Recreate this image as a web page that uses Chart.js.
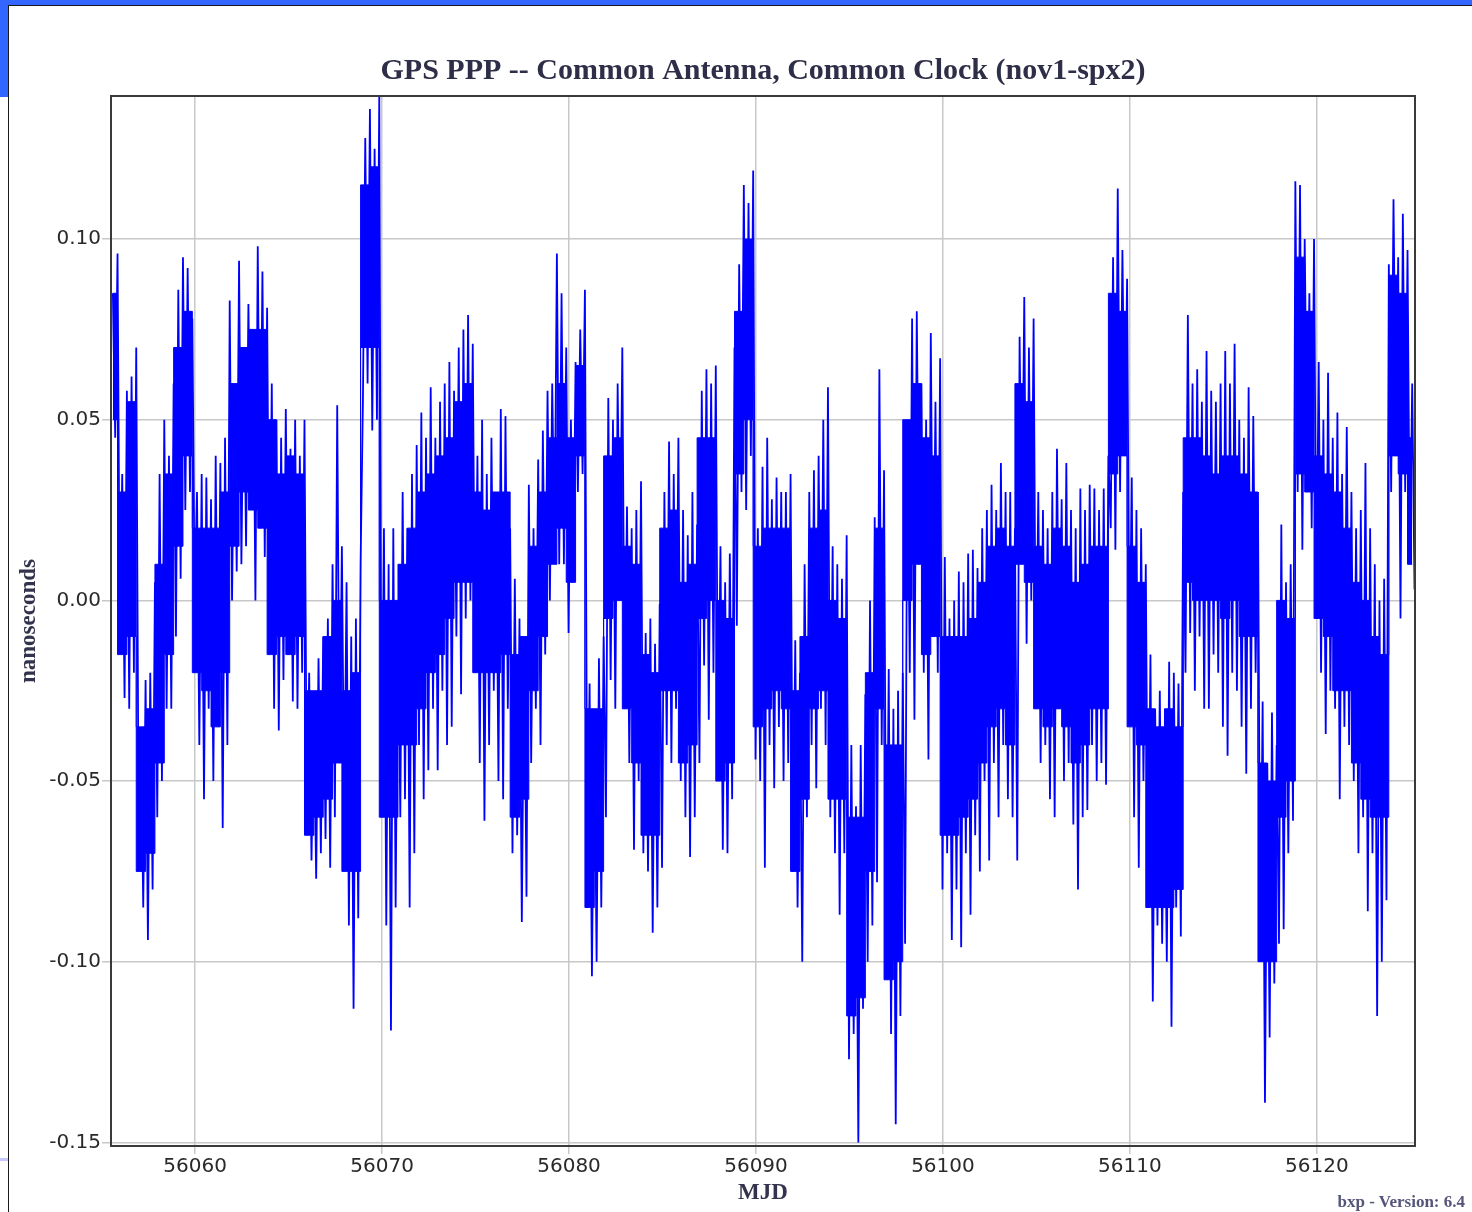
<!DOCTYPE html>
<html lang="en">
<head>
  <meta charset="UTF-8">
  <title>GPS PPP -- Common Antenna, Common Clock (nov1-spx2)</title>
  <style>
    html, body {
      margin: 0;
      padding: 0;
      background: #ffffff;
    }
    body {
      width: 1472px;
      height: 1212px;
      position: relative;
      overflow: hidden;
    }
    .bar-top { position: absolute; left: 0; top: 0; width: 1472px; height: 5px; background: #3366ff; }
    .bar-left { position: absolute; left: 0; top: 0; width: 8px; height: 97px; background: #3366ff; }
    .rule-top { position: absolute; left: 8px; top: 5px; width: 1464px; height: 1px; background: #1a1a1a; }
    .rule-left { position: absolute; left: 8px; top: 5px; width: 1px; height: 1207px; background: #1a1a1a; }
    .mark { position: absolute; left: 0; top: 1158px; width: 8px; height: 3px; background: #c8c8ff; }
    canvas { position: absolute; left: 0; top: 0; }
    .version {
      position: absolute;
      right: 7px;
      top: 1193px;
      font: bold 17px "Liberation Serif", serif;
      line-height: 17px;
      color: #55557a;
    }
  </style>
</head>
<body>
  <div class="bar-top"></div>
  <div class="bar-left"></div>
  <div class="rule-top"></div>
  <div class="rule-left"></div>
  <div class="mark"></div>
  <canvas id="pppChart" width="1472" height="1212"></canvas>
  <div class="version">bxp - Version: 6.4</div>

  <script src="https://cdn.jsdelivr.net/npm/chart.js"></script>
  <script>
    // samples every 0.125 day starting at MJD 56055.6, values in ns
    const mjdStart = 56055.6;
    const mjdStep = 0.125;
    const offsetNs = [
      0.085, 0.045, 0.096, -0.010, 0.035, -0.027, 0.058, -0.030,   // 56055.6
      0.062, -0.020, 0.070, -0.060, -0.036, -0.085, -0.022, -0.094,
      -0.020, -0.080, 0.005, -0.060, 0.035, -0.050, 0.050, -0.030,
      0.040, -0.030, 0.060, -0.010, 0.086, 0.006, 0.095, 0.025,
      0.092, 0.030, 0.078, 0.000, 0.030, -0.040, 0.035, -0.055,    // 56059.6
      0.034, -0.030, 0.028, -0.050, 0.040, -0.035, 0.038, -0.063,
      0.045, -0.040, 0.083, 0.000, 0.060, 0.008, 0.094, 0.010,
      0.070, 0.015, 0.082, 0.030, 0.075, 0.000, 0.098, 0.020,
      0.091, 0.012, 0.081, -0.010, 0.060, -0.030, 0.050, -0.036,
      0.045, -0.022, 0.053, -0.015, 0.042, -0.028, 0.050, -0.030,
      0.040, -0.020, 0.050, -0.060, -0.020, -0.072, -0.030, -0.077, // 56065.6
      -0.016, -0.070, -0.010, -0.066, -0.005, -0.074, 0.010, -0.060,
      0.054, -0.045, 0.015, -0.060, 0.005, -0.090, -0.010, -0.113,
      -0.005, -0.088, 0.010, 0.055, 0.128, 0.060, 0.136, 0.047,
      0.125, 0.050, 0.140, -0.060, 0.020, -0.090, 0.010, -0.119,
      0.020, -0.085, 0.000, -0.060, 0.030, -0.055, 0.020, -0.085,
      0.035, -0.070, 0.043, -0.040, 0.052, -0.055, 0.045, -0.047,
      0.059, -0.030, 0.045, -0.047, 0.055, -0.025, 0.060, -0.040,
      0.066, -0.035, 0.058, -0.010, 0.070, -0.026, 0.075, -0.005,
      0.079, 0.000, 0.071, -0.020, 0.040, -0.045, 0.050, -0.061,
      0.035, -0.040, 0.045, -0.025, 0.030, -0.050, 0.053, -0.055,   // 56075.6
      0.051, -0.030, 0.020, -0.070, 0.006, -0.065, -0.005, -0.089,
      -0.010, -0.082, 0.032, -0.045, 0.020, -0.030, 0.039, -0.040,
      0.047, -0.015, 0.058, 0.000, 0.060, 0.013, 0.096, 0.010,
      0.085, 0.010, 0.070, -0.009, 0.050, 0.005, 0.066, 0.030,
      0.075, 0.035, 0.086, -0.070, -0.023, -0.104, -0.030, -0.100,
      -0.016, -0.085, -0.010, -0.060, 0.056, -0.022, 0.050, -0.030,
      0.060, 0.005, 0.070, -0.030, 0.026, -0.045, 0.020, -0.069,
      0.025, -0.050, 0.033, -0.070, -0.009, -0.075, -0.005, -0.092,
      -0.012, -0.085, -0.001, -0.074, 0.030, -0.040, 0.044, -0.045,
      0.035, -0.030, 0.045, -0.050, 0.025, -0.060, 0.018, -0.071,   // 56085.6
      0.030, -0.060, 0.021, -0.045, 0.058, -0.018, 0.064, -0.033,
      0.060, -0.020, 0.065, -0.046, 0.015, -0.069, 0.005, -0.070,
      0.013, -0.055, 0.070, -0.007, 0.093, 0.030, 0.115, 0.025,
      0.110, 0.040, 0.119, -0.044, 0.020, -0.050, 0.037, -0.074,
      0.045, -0.040, 0.028, -0.052, 0.034, -0.035, 0.030, -0.050,
      0.030, -0.045, 0.035, -0.075, -0.011, -0.085, -0.020, -0.100,
      0.010, -0.060, 0.030, -0.040, 0.036, -0.052, 0.040, -0.030,
      0.050, -0.040, 0.059, -0.060, 0.015, -0.070, 0.010, -0.087,
      0.006, -0.070, 0.018, -0.127, -0.040, -0.120, -0.057, -0.150,
      -0.040, -0.113, -0.026, -0.100, 0.000, -0.090, 0.023, -0.078, // 56095.6
      0.064, -0.040, 0.036, -0.100, -0.019, -0.120, -0.030, -0.145,
      -0.025, -0.115, -0.020, -0.095, 0.050, -0.020, 0.078, -0.033,
      0.080, 0.010, 0.060, -0.020, 0.050, -0.044, 0.074, -0.010,
      0.055, -0.020, 0.067, -0.080, 0.012, -0.070, -0.005, -0.094,
      0.000, -0.080, 0.008, -0.096, 0.005, -0.070, 0.013, -0.087,
      0.014, -0.065, 0.009, -0.075, 0.020, -0.050, 0.025, -0.072,
      0.032, -0.045, 0.025, -0.060, 0.038, -0.040, 0.030, -0.055,
      0.030, -0.060, 0.020, -0.072, 0.073, 0.015, 0.084, -0.012,
      0.070, 0.000, 0.078, -0.030, 0.030, -0.045, 0.025, -0.040,
      0.020, -0.055, 0.030, -0.060, 0.042, -0.030, 0.028, -0.050,   // 56105.6
      0.038, -0.045, 0.025, -0.062, 0.020, -0.080, 0.031, -0.060,
      0.025, -0.058, 0.032, -0.040, 0.031, -0.050, 0.025, -0.045,
      0.031, -0.051, 0.040, 0.020, 0.095, 0.014, 0.114, 0.030,
      0.097, 0.040, 0.089, -0.020, 0.034, -0.060, 0.025, -0.074,
      0.020, -0.050, 0.010, -0.085, -0.015, -0.111, -0.030, -0.090,
      -0.025, -0.095, -0.040, -0.100, -0.017, -0.118, -0.020, -0.085,
      -0.023, -0.093, 0.030, -0.020, 0.079, -0.009, 0.060, -0.025,
      0.064, -0.010, 0.055, -0.030, 0.069, -0.030, 0.058, -0.015,
      0.055, -0.020, 0.060, -0.035, 0.069, -0.043, 0.060, -0.020,
      0.071, -0.025, 0.050, -0.035, 0.045, -0.048, 0.059, -0.030,   // 56115.6
      0.051, -0.020, 0.030, -0.100, -0.028, -0.139, -0.045, -0.121,
      -0.031, -0.106, -0.040, -0.095, 0.021, -0.091, 0.005, -0.070,
      0.010, -0.061, 0.116, 0.030, 0.115, 0.014, 0.100, 0.040,
      0.085, 0.020, 0.100, 0.000, 0.066, -0.020, 0.050, -0.037,
      0.063, -0.025, 0.045, -0.030, 0.052, -0.055, 0.035, -0.035,
      0.048, -0.040, 0.030, -0.050, 0.020, -0.070, 0.025, -0.060,
      0.038, -0.086, 0.020, -0.070, 0.010, -0.115, 0.000, -0.100,
      0.006, -0.083, 0.093, 0.030, 0.111, 0.045, 0.095, -0.005,
      0.107, 0.030, 0.097, 0.010, 0.060, 0.003                      // 56124.6
    ];

    // dense core of the trace (where most samples pile up), every 0.5 day from MJD 56055.6
    const coreStep = 0.5;
    const coreTopNs = [
      0.085, 0.030, 0.055, -0.035, -0.030, 0.010, 0.035, 0.070, 0.080, 0.020,
      0.020, 0.020, 0.030, 0.060, 0.070, 0.075, 0.075, 0.050, 0.035, 0.040,
      0.035, -0.025, -0.025, -0.010, 0.000, -0.025, -0.020, 0.115, 0.120, 0.000,
      0.000, 0.010, 0.020, 0.030, 0.035, 0.040, 0.045, 0.055, 0.060, 0.030,
      0.025, 0.030, 0.030, -0.015, -0.010, 0.015, 0.030, 0.045, 0.060, 0.045,
      0.065, -0.030, -0.030, 0.040, 0.045, 0.015, 0.010, -0.015, -0.020, 0.020,
      0.025, 0.005, 0.010, 0.045, 0.045, 0.000, -0.005, 0.080, 0.100, 0.015,
      0.020, 0.020, 0.020, -0.025, -0.010, 0.020, 0.025, 0.000, -0.005, -0.060,
      -0.060, -0.020, 0.020, -0.040, -0.040, 0.050, 0.060, 0.045, 0.040, -0.010,
      -0.010, -0.010, -0.005, 0.005, 0.015, 0.020, 0.015, 0.060, 0.055, 0.015,
      0.010, 0.020, 0.015, 0.005, 0.010, 0.015, 0.015, 0.085, 0.080, 0.015,
      0.005, -0.030, -0.035, -0.030, -0.035, 0.045, 0.045, 0.040, 0.035, 0.040,
      0.040, 0.035, 0.030, -0.045, -0.050, 0.000, -0.005, 0.095, 0.080, 0.040,
      0.035, 0.030, 0.020, 0.005, 0.000, -0.010, -0.015, 0.090, 0.085, 0.045
    ];
    const coreBottomNs = [
      0.050, -0.015, -0.010, -0.075, -0.070, -0.045, -0.015, 0.015, 0.040, -0.020,
      -0.025, -0.035, -0.020, 0.015, 0.030, 0.025, 0.020, -0.015, -0.010, -0.015,
      -0.010, -0.065, -0.060, -0.055, -0.045, -0.075, -0.075, 0.070, 0.070, -0.060,
      -0.060, -0.040, -0.040, -0.030, -0.020, -0.015, -0.005, 0.005, 0.005, -0.020,
      -0.020, -0.020, -0.015, -0.060, -0.055, -0.025, -0.010, 0.010, 0.020, 0.005,
      0.040, -0.085, -0.075, -0.005, 0.000, -0.030, -0.045, -0.065, -0.065, -0.025,
      -0.025, -0.045, -0.040, -0.005, 0.000, -0.050, -0.045, 0.035, 0.050, -0.035,
      -0.030, -0.025, -0.030, -0.075, -0.055, -0.030, -0.025, -0.055, -0.055, -0.115,
      -0.110, -0.075, -0.030, -0.105, -0.100, 0.000, 0.010, -0.015, -0.010, -0.065,
      -0.065, -0.060, -0.055, -0.045, -0.035, -0.030, -0.040, 0.010, 0.005, -0.030,
      -0.035, -0.030, -0.035, -0.045, -0.040, -0.030, -0.030, 0.035, 0.040, -0.035,
      -0.040, -0.085, -0.085, -0.085, -0.080, 0.005, 0.000, 0.000, 0.000, -0.005,
      0.000, -0.010, -0.010, -0.100, -0.100, -0.060, -0.050, 0.035, 0.030, -0.005,
      -0.010, -0.025, -0.025, -0.045, -0.055, -0.060, -0.060, 0.040, 0.035, 0.010
    ];

    const xTickValues = [56060, 56070, 56080, 56090, 56100, 56110, 56120];
    const yTickValues = [-0.15, -0.10, -0.05, 0.00, 0.05, 0.10];
    const xRange = [56055.5, 56125.25];
    const yRange = [-0.151, 0.1396];

    const points = offsetNs.map((v, i) => ({ x: mjdStart + i * mjdStep, y: v }));
    const coreTop = coreTopNs.map((v, i) => ({ x: mjdStart + i * coreStep, y: v }));
    const coreBottom = coreBottomNs.map((v, i) => ({ x: mjdStart + i * coreStep, y: v }));

    // dark box round the plot area
    const framePlugin = {
      id: 'frame',
      afterDatasetsDraw(chart) {
        const { ctx, chartArea: a } = chart;
        ctx.save();
        ctx.strokeStyle = '#3a3a3a';
        ctx.lineWidth = 2;
        ctx.strokeRect(a.left, a.top, a.right - a.left, a.bottom - a.top);
        ctx.restore();
      }
    };

    const blue = '#0000ff';
    const tickFont = { family: 'DejaVu Sans', size: 20 };
    const labelFont = { family: 'Liberation Serif', size: 23, weight: 'bold', lineHeight: 1.2 };

    new Chart(document.getElementById('pppChart').getContext('2d'), {
      type: 'line',
      data: {
        datasets: [
          {
            data: coreTop,
            borderColor: blue,
            borderWidth: 1,
            backgroundColor: blue,
            pointRadius: 0,
            fill: '+1',
            stepped: 'middle'
          },
          {
            data: coreBottom,
            borderColor: blue,
            borderWidth: 1,
            pointRadius: 0,
            fill: false,
            stepped: 'middle'
          },
          {
            data: points,
            borderColor: blue,
            borderWidth: 1.8,
            borderJoinStyle: 'bevel',
            pointRadius: 0,
            fill: false,
            tension: 0
          }
        ]
      },
      options: {
        responsive: false,
        animation: false,
        devicePixelRatio: 1,
        layout: { padding: { top: 0, right: 57, bottom: 0, left: 0 } },
        plugins: {
          legend: { display: false },
          tooltip: { enabled: false },
          title: {
            display: true,
            fullSize: false,
            text: 'GPS PPP -- Common Antenna, Common Clock (nov1-spx2)',
            color: '#2e2e48',
            font: { family: 'Liberation Serif', size: 30, weight: 'bold', lineHeight: 1.2 },
            padding: { top: 53, bottom: 7 }
          }
        },
        scales: {
          x: {
            type: 'linear',
            min: xRange[0],
            max: xRange[1],
            afterBuildTicks: s => { s.ticks = xTickValues.map(v => ({ value: v })); },
            afterFit: s => { s.height = 66; },
            grid: { color: '#c8c8c8', lineWidth: 1.5, tickLength: 8 },
            border: { display: false },
            ticks: {
              color: '#2a2a2a',
              font: tickFont,
              padding: 1,
              maxRotation: 0,
              autoSkip: false,
              callback: v => String(v)
            },
            title: {
              display: true,
              text: 'MJD',
              color: '#33334d',
              font: labelFont,
              padding: { top: 0, bottom: 5 }
            }
          },
          y: {
            type: 'linear',
            min: yRange[0],
            max: yRange[1],
            afterBuildTicks: s => { s.ticks = yTickValues.map(v => ({ value: v })); },
            afterFit: s => { s.width = 111; },
            grid: { color: '#c8c8c8', lineWidth: 1.5, tickLength: 9 },
            border: { display: false },
            ticks: {
              color: '#2a2a2a',
              font: tickFont,
              padding: 1,
              callback: v => v.toFixed(2)
            },
            title: {
              display: true,
              text: 'nanoseconds',
              color: '#33334d',
              font: labelFont,
              padding: { top: 15, bottom: 0 }
            }
          }
        }
      },
      plugins: [framePlugin]
    });
  </script>
</body>
</html>
